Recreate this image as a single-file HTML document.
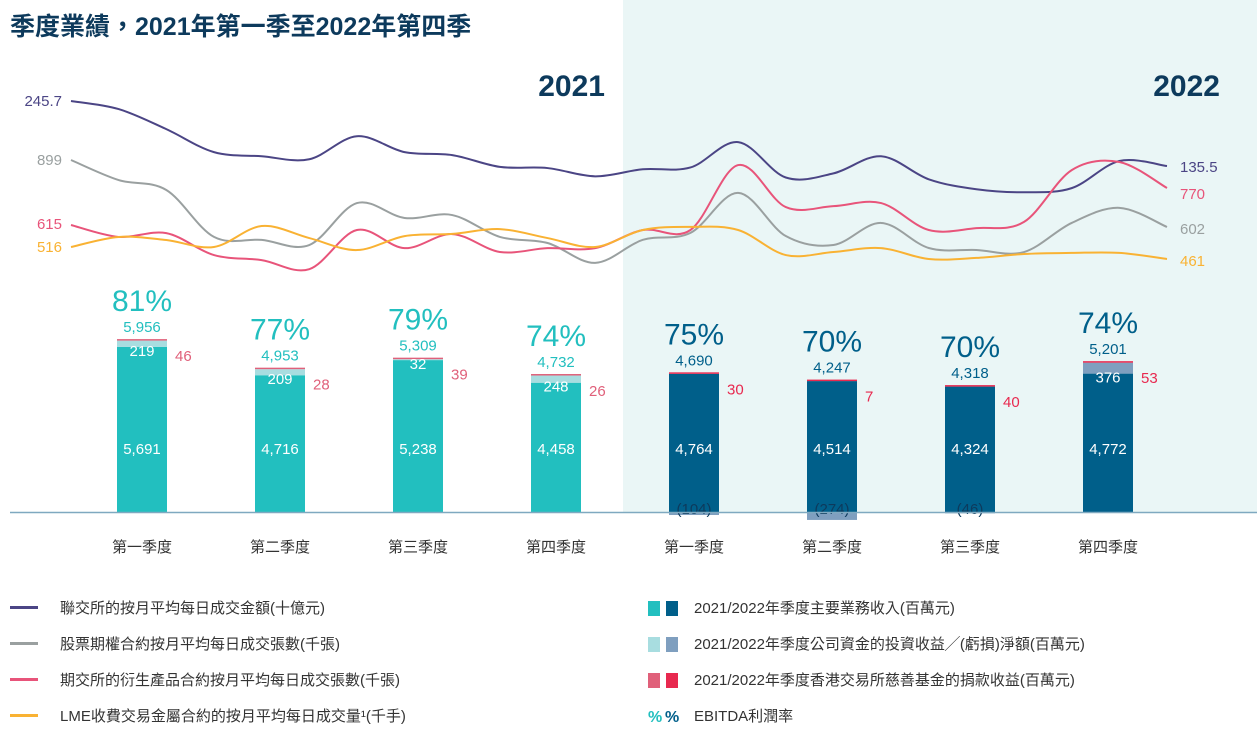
<!DOCTYPE html>
<html><head><meta charset="utf-8">
<style>
body{margin:0;background:#fff;}
svg text{font-family:"Liberation Sans","Noto Sans CJK TC",sans-serif;}
</style></head>
<body>
<svg id="c" width="1257" height="733" viewBox="0 0 1257 733" xmlns="http://www.w3.org/2000/svg">
<rect x="623" y="0" width="634" height="513" fill="#eaf6f6"/>
<text x="10" y="35" font-size="25" font-weight="bold" fill="#0d3a5c">季度業績，2021年第一季至2022年第四季</text>
<text x="605" y="96" font-size="30" font-weight="bold" fill="#0d3a5c" text-anchor="end">2021</text>
<text x="1220" y="96" font-size="30" font-weight="bold" fill="#0d3a5c" text-anchor="end">2022</text>
<g id="lines"></g>
<g id="bars"></g>
<line x1="10" y1="512.5" x2="1257" y2="512.5" stroke="#7fa9c0" stroke-width="1.5"/>
<g id="xlabels"></g>
<g id="legend" font-size="15" fill="#333">
  <rect x="10" y="606" width="28" height="3" fill="#4b4585"/>
  <text x="60" y="613">聯交所的按月平均每日成交金額(十億元)</text>
  <rect x="10" y="642" width="28" height="3" fill="#9aa0a0"/>
  <text x="60" y="649">股票期權合約按月平均每日成交張數(千張)</text>
  <rect x="10" y="678" width="28" height="3" fill="#e8547a"/>
  <text x="60" y="685">期交所的衍生產品合約按月平均每日成交張數(千張)</text>
  <rect x="10" y="714" width="28" height="3" fill="#f9b233"/>
  <text x="60" y="721">LME收費交易金屬合約的按月平均每日成交量¹(千手)</text>
  <rect x="648" y="601" width="12" height="15" fill="#22bfbf"/>
  <rect x="666" y="601" width="12" height="15" fill="#005f8a"/>
  <text x="694" y="613">2021/2022年季度主要業務收入(百萬元)</text>
  <rect x="648" y="637" width="12" height="15" fill="#a8dde0"/>
  <rect x="666" y="637" width="12" height="15" fill="#7f9fbf"/>
  <text x="694" y="649">2021/2022年季度公司資金的投資收益╱(虧損)淨額(百萬元)</text>
  <rect x="648" y="673" width="12" height="15" fill="#e0607a"/>
  <rect x="666" y="673" width="12" height="15" fill="#e8294f"/>
  <text x="694" y="685">2021/2022年季度香港交易所慈善基金的捐款收益(百萬元)</text>
  <text x="648" y="722" font-size="16" font-weight="bold" fill="#22bfbf">%</text>
  <text x="665" y="722" font-size="16" font-weight="bold" fill="#005f8a">%</text>
  <text x="694" y="721">EBITDA利潤率</text>
</g>
</svg>
<script>
const months = 24;
const hkexTurnover = [245.7,232,198,159,152,147,186,159,154,134,132,118,130,133,176,116,123,152,113,96,91,98,144,135.5];
const stockOptions = [899,810,766,558,545,522,708,642,655,558,531,443,545,576,753,562,522,620,509,500,491,620,687,602];
const derivatives = [615,565,581,489,468,430,594,518,577,502,518,518,594,594,866,690,694,707,594,602,628,845,879,770];
const lmeVolume = [516,562,548,516,612,557,502,566,576,598,557,516,594,608,594,479,493,511,461,466,484,489,489,461];

const quarters = ['第一季度','第二季度','第三季度','第四季度','第一季度','第二季度','第三季度','第四季度'];
const mainRevenue = [5691,4716,5238,4458,4764,4514,4324,4772];
const investIncome = [219,209,32,248,-104,-274,-46,376];
const charityIncome = [46,28,39,26,30,7,40,53];
const totalLabels = ['5,956','4,953','5,309','4,732','4,690','4,247','4,318','5,201'];
const ebitdaMargin = [81,77,79,74,75,70,70,74];

const NS='http://www.w3.org/2000/svg';
function mk(tag, attrs, parent, txt){const e=document.createElementNS(NS,tag);for(const k in attrs)e.setAttribute(k,attrs[k]);if(txt!==undefined)e.textContent=txt;parent.appendChild(e);return e;}

const xMonth = i => 71 + i*(1096/(months-1));
// each series uses its own y-scale: (value at refY0, value at refY1)
function scale(v0,y0,v1,y1){return v=>y0+(v-v0)*(y1-y0)/(v1-v0);}
const series = [
  {name:'hkex-turnover',data:hkexTurnover,color:'#4b4585',y:scale(245.7,101,135.5,166),first:'245.7',last:'135.5',fy:106,ly:172},
  {name:'stock-options',data:stockOptions,color:'#9aa0a0',y:scale(899,160,602,227),first:'899',last:'602',fy:165,ly:234},
  {name:'derivatives',data:derivatives,color:'#e8547a',y:scale(615,225,770,188),first:'615',last:'770',fy:229,ly:199},
  {name:'lme-volume',data:lmeVolume,color:'#f9b233',y:scale(516,247,461,259),first:'516',last:'461',fy:252,ly:266},
];
const lg=document.getElementById('lines');
series.forEach(s=>{
  const pts=s.data.map((v,i)=>[xMonth(i),s.y(v)]);
  let d='M'+pts[0][0]+','+pts[0][1];
  for(let i=0;i<pts.length-1;i++){
    const p0=pts[Math.max(0,i-1)],p1=pts[i],p2=pts[i+1],p3=pts[Math.min(pts.length-1,i+2)];
    const c1=[p1[0]+(p2[0]-p0[0])/6,p1[1]+(p2[1]-p0[1])/6];
    const c2=[p2[0]-(p3[0]-p1[0])/6,p2[1]-(p3[1]-p1[1])/6];
    d+=` C${c1[0]},${c1[1]} ${c2[0]},${c2[1]} ${p2[0]},${p2[1]}`;
  }
  const p=mk('path',{d:d,fill:'none',stroke:s.color,'stroke-width':2},lg);
  
  
  const t1=mk('text',{x:62,y:s.fy,'font-size':15,fill:s.color,'text-anchor':'end'},lg,s.first);
  
  
  const t2=mk('text',{x:1180,y:s.ly,'font-size':15,fill:s.color},lg,s.last);
  
  
});

const base=512, k=0.029, bw=50;
const xQ = i => 142 + i*138;
const yv = v => base - v*k;
const bg=document.getElementById('bars'), xl=document.getElementById('xlabels');
quarters.forEach((q,i)=>{
  const is22=i>=4;
  const cMain=is22?'#005f8a':'#22bfbf', cInv=is22?'#7f9fbf':'#a8dde0', cCh=is22?'#e8294f':'#e0607a', cTxt=is22?'#005f8a':'#22bfbf';
  const cx=xQ(i), x0=cx-bw/2;
  const g=mk('g',{},bg);
  
  
  const mTop=yv(mainRevenue[i]);
  const r=mk('rect',{x:x0,y:mTop,width:bw,height:base-mTop,fill:cMain},g);
  
  
  let top=mTop, invLabelY;
  if(investIncome[i]>=0){
    const h=investIncome[i]*k; top=mTop-h;
    const ri=mk('rect',{x:x0,y:top,width:bw,height:h,fill:cInv},g);
    
    
    invLabelY=mTop+9;
  } else {
    const h=-investIncome[i]*k;
    const ri=mk('rect',{x:x0,y:base,width:bw,height:h,fill:cInv},g);
    
    
    invLabelY=base+2;
  }
  const hc=Math.max(charityIncome[i]*k,1.5); top=top-hc;
  const rc=mk('rect',{x:x0,y:top,width:bw,height:hc,fill:cCh},g);
  
  
  const inv=investIncome[i];
  const invTxt=inv<0?'('+(-inv)+')':String(inv);
  if(i!==4&&i!==5&&i!==6||inv<0){
    const ti=mk('text',{x:cx,y:invLabelY,'font-size':15,fill:inv<0?'#0d3a5c':'#fff','text-anchor':'middle'},g,invTxt);
    
    
  }
  const tm=mk('text',{x:cx,y:base-58,'font-size':15,fill:'#fff','text-anchor':'middle'},g,mainRevenue[i].toLocaleString('en-US'));
  
  
  const tc=mk('text',{x:x0+bw+8,y:top+22,'font-size':15,fill:cCh},g,String(charityIncome[i]));
  
  
  const tt=mk('text',{x:cx,y:top-7,'font-size':15,fill:cTxt,'text-anchor':'middle'},g,totalLabels[i]);
  
  
  const tp=mk('text',{x:cx,y:top-28,'font-size':30,fill:cTxt,'text-anchor':'middle'},g,ebitdaMargin[i]+'%');
  
  
  const tq=mk('text',{x:cx,y:552,'font-size':15,fill:'#333','text-anchor':'middle'},xl,q);
  
  
});
</script>
</body></html>
